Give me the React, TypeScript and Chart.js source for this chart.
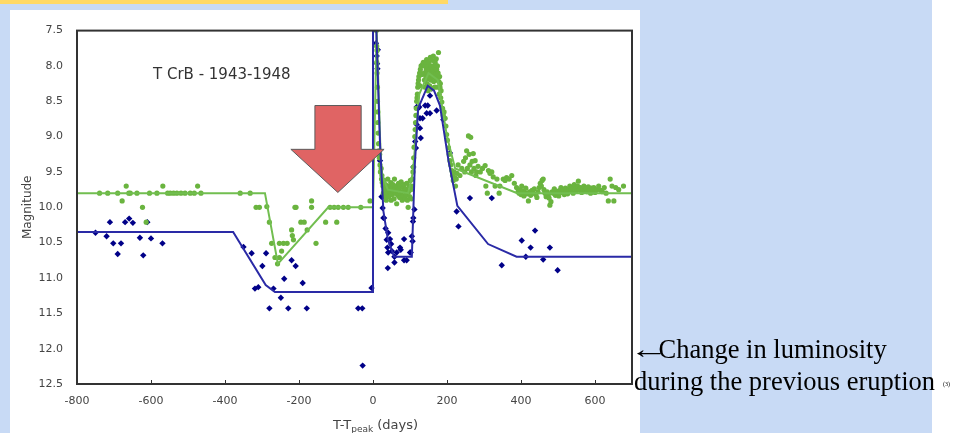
import React, { useEffect, useRef } from "react";
import { Chart, registerables } from "chart.js";

Chart.register(...registerables);

// ---------- data ----------
const chartTitle = "T CrB - 1943-1948";
const yAxisTitle = "Magnitude";
const xTickValues = [-800, -600, -400, -200, 0, 200, 400, 600];
const yTickValues = [7.5, 8.0, 8.5, 9.0, 9.5, 10.0, 10.5, 11.0, 11.5, 12.0, 12.5];

// model curves: [day, magnitude]
const blueModel: [number, number][] = [
  [-800, 10.35], [-378, 10.35], [-290, 11.1], [-265, 11.2], [0, 11.2], [0, 7.5], [9, 7.5],
  [19, 9.1], [28, 10.05], [40, 10.45], [57, 10.7], [105, 10.7], [113, 9.4], [122, 8.6],
  [148, 8.28], [165, 8.35], [181, 8.56], [204, 9.34], [228, 9.98], [311, 10.52], [388, 10.7], [700, 10.7],
];
const greenModel: [number, number][] = [
  [-800, 9.8], [-292, 9.8], [-257, 10.8], [-121, 10.0], [0, 10.0], [10, 7.5], [22, 9.5],
  [40, 9.75], [95, 9.8], [108, 9.5], [125, 8.4], [150, 8.1], [175, 8.2], [200, 9.0],
  [222, 9.45], [390, 9.8], [700, 9.8],
];

// observations: [day, magnitude]
const blueObs: [number, number][] = [
  [-750, 10.36], [-720, 10.41], [-711, 10.21], [-702, 10.51], [-690, 10.66], [-681, 10.51], [-670, 10.21],
  [-659, 10.16], [-649, 10.22], [-630, 10.43], [-621, 10.68], [-610, 10.21], [-600, 10.44], [-569, 10.51],
  [-350, 10.56], [-328, 10.65], [-289, 10.65], [-299, 10.83], [-319, 11.15], [-310, 11.13], [-269, 11.15],
  [-249, 11.28], [-280, 11.43], [-229, 11.43], [-179, 11.43], [-220, 10.75], [-209, 10.83], [-240, 11.01],
  [-190, 11.07], [-40, 11.43], [-29, 11.43], [-4, 11.14], [-28, 12.24],
  [8, 7.68], [10, 7.86], [11, 7.97], [12, 8.04], [13, 7.77], [19, 9.34], [23, 9.85], [26, 10.01],
  [28, 10.15], [30, 10.15], [34, 10.3], [37, 10.46], [39, 10.57], [40, 10.86], [41, 10.36], [41, 10.64],
  [46, 10.45], [49, 10.52], [51, 10.62], [58, 10.7], [58, 10.78], [64, 10.64], [73, 10.57], [75, 10.6],
  [84, 10.75], [84, 10.45], [91, 10.75], [100, 10.64], [102, 10.64], [105, 10.41], [107, 10.48], [108, 10.2],
  [109, 10.15], [112, 10.03], [109, 9.43], [114, 9.07], [116, 9.16], [118, 8.83], [122, 8.6], [118, 8.58],
  [125, 8.58], [127, 8.74], [134, 8.74], [127, 8.88], [129, 9.02], [141, 8.56], [148, 8.56], [145, 8.67],
  [154, 8.67], [159, 8.32], [154, 8.42], [172, 8.63], [190, 8.76], [208, 9.23], [226, 10.06], [231, 10.27],
  [262, 9.87], [321, 9.87], [348, 10.82], [402, 10.47], [413, 10.7], [426, 10.57], [438, 10.33], [460, 10.74],
  [478, 10.57], [499, 10.89],
];

const greenObs: [number, number][] = [
  [-739, 9.8], [-717, 9.8], [-690, 9.8], [-667, 9.7], [-678, 9.91], [-660, 9.8], [-656, 9.8], [-638, 9.8],
  [-623, 10.0], [-613, 10.21], [-604, 9.8], [-584, 9.8], [-568, 9.7], [-555, 9.8], [-548, 9.8], [-539, 9.8],
  [-530, 9.8], [-519, 9.8], [-508, 9.8], [-494, 9.8], [-483, 9.8], [-474, 9.7], [-465, 9.8],
  [-359, 9.8], [-332, 9.8], [-316, 10.0], [-307, 10.0],
  [-287, 9.99], [-280, 10.21], [-274, 10.51], [-265, 10.71], [-258, 10.8], [-253, 10.71], [-253, 10.51],
  [-247, 10.62], [-242, 10.51], [-232, 10.51], [-220, 10.32], [-218, 10.4], [-215, 10.46], [-208, 10.0],
  [-211, 10.0], [-195, 10.21], [-186, 10.21], [-178, 10.32], [-166, 9.91], [-166, 10.0], [-154, 10.51],
  [-128, 10.21], [-98, 10.21], [-116, 10.0], [-105, 10.0], [-94, 10.0], [-80, 10.0], [-67, 10.0], [-33, 10.0],
  [-8, 9.91],
  [9, 7.5], [10, 7.72], [11, 7.78], [10, 7.95], [11, 8.1], [12, 8.3], [12, 8.5], [13, 8.65], [13, 8.8],
  [14, 8.95], [15, 9.1], [16, 9.2], [17, 9.3], [18, 9.25], [19, 9.4], [20, 9.5], [22, 9.45], [23, 9.6], [24, 9.55],
  [25, 9.65], [27, 9.7], [28, 9.8], [30, 9.62], [31, 9.75], [33, 9.85], [34, 9.68], [36, 9.9], [37, 9.72],
  [39, 9.8], [40, 9.6], [42, 9.75], [43, 9.85], [45, 9.7], [46, 9.78], [48, 9.65], [49, 9.9], [51, 9.74],
  [52, 9.82], [54, 9.68], [55, 9.77], [57, 9.88], [58, 9.6], [60, 9.72], [61, 9.8], [63, 9.7], [64, 9.95],
  [66, 9.76], [67, 9.83], [69, 9.66], [70, 9.74], [72, 9.86], [73, 9.7], [75, 9.8], [76, 9.64], [78, 9.78],
  [79, 9.9], [81, 9.72], [82, 9.84], [84, 9.68], [85, 9.76], [87, 9.88], [88, 9.74], [90, 9.82], [91, 9.66],
  [93, 9.9], [95, 10.0], [96, 9.78], [98, 9.7], [99, 9.85], [101, 9.62], [102, 9.75], [104, 9.88], [105, 9.7],
  [107, 9.6], [108, 9.5],
  [109, 9.43], [110, 9.3], [111, 9.15], [113, 9.0], [114, 8.9], [115, 8.8], [116, 8.7], [117, 8.6], [118, 8.5],
  [119, 8.45], [120, 8.4], [121, 8.3], [122, 8.25], [123, 8.2], [124, 8.15], [126, 8.1], [127, 8.28], [128, 8.05],
  [130, 8.0], [132, 8.12], [134, 7.98], [136, 7.95],
  [138, 8.1], [139, 8.2], [140, 8.0], [141, 8.3], [142, 7.95], [143, 8.15], [144, 8.05], [145, 7.91], [146, 8.25],
  [147, 8.1], [148, 8.0], [149, 8.35], [150, 7.95], [151, 8.18], [152, 8.05], [153, 8.28], [154, 8.12], [155, 7.88],
  [156, 8.2], [157, 8.0], [158, 8.08], [159, 8.32], [160, 7.92], [161, 8.15], [162, 8.05], [163, 7.86], [164, 8.22],
  [165, 8.0], [166, 8.1], [167, 8.3], [168, 7.95], [169, 8.12], [170, 8.2], [171, 7.9], [172, 8.05], [173, 8.18],
  [174, 8.0], [175, 8.3], [176, 8.1], [177, 7.81], [178, 8.22], [179, 8.4], [180, 8.15], [181, 8.3], [182, 8.25],
  [183, 8.45], [184, 8.35], [186, 8.51], [188, 8.6], [190, 8.7], [192, 8.65], [195, 8.74], [197, 8.85], [199, 8.97],
  [201, 9.05], [204, 9.16], [206, 9.25], [208, 9.34], [210, 9.4], [213, 9.48], [215, 9.55], [217, 9.62], [219, 9.5],
  [221, 9.58], [223, 9.7], [225, 9.6], [227, 9.52],
  [230, 9.4], [235, 9.55], [240, 9.45], [245, 9.35], [248, 9.5], [250, 9.3], [253, 9.2], [255, 9.45], [258, 8.99],
  [260, 9.25], [262, 9.4], [264, 9.01], [266, 9.5], [268, 9.35], [271, 9.24], [273, 9.45], [276, 9.34], [278, 9.55],
  [280, 9.5], [284, 9.42], [290, 9.5], [296, 9.45], [303, 9.41], [305, 9.7], [309, 9.8], [312, 9.48], [316, 9.52],
  [321, 9.5], [325, 9.57], [330, 9.7], [335, 9.6], [341, 9.8], [343, 9.7], [352, 9.6], [357, 9.62], [361, 9.58],
  [368, 9.6], [375, 9.55], [382, 9.66],
  [388, 9.72], [392, 9.78], [395, 9.8], [398, 9.75], [400, 9.82], [402, 9.7], [405, 9.77], [408, 9.84], [410, 9.79],
  [413, 9.73], [416, 9.81], [420, 9.91], [423, 9.78], [426, 9.83], [430, 9.76], [433, 9.8], [436, 9.74], [440, 9.82],
  [443, 9.86], [446, 9.78], [449, 9.72], [452, 9.66], [455, 9.7], [457, 9.62], [460, 9.6], [462, 9.75], [465, 9.8],
  [468, 9.85], [471, 9.78], [474, 9.82], [476, 9.87], [478, 9.97], [481, 9.92], [484, 9.78], [487, 9.8], [490, 9.74],
  [493, 9.83], [496, 9.77], [499, 9.8], [502, 9.84], [505, 9.76], [508, 9.72], [511, 9.79], [514, 9.75], [517, 9.82],
  [520, 9.73], [523, 9.78], [526, 9.81], [529, 9.74], [532, 9.7], [535, 9.76], [538, 9.72], [541, 9.8], [544, 9.68],
  [547, 9.74], [550, 9.77], [553, 9.7], [555, 9.63], [558, 9.75], [561, 9.72], [564, 9.79], [567, 9.74], [570, 9.7],
  [573, 9.76], [576, 9.73], [579, 9.78], [582, 9.71], [585, 9.75], [588, 9.8], [591, 9.73], [594, 9.77], [597, 9.72],
  [600, 9.79], [605, 9.75], [610, 9.7], [615, 9.76], [620, 9.78], [625, 9.72], [630, 9.8], [636, 9.91], [641, 9.6],
  [646, 9.7], [651, 9.91], [656, 9.72], [664, 9.75], [677, 9.7],
];

// ---------- styles ----------
const BLUE_PT = "#000088";
const BLUE_LINE = "#2a2aa6";
const GREEN_PT = "#6ab43f";
const GREEN_LINE = "#72be50";
const TICK_COLOR = "#444";
const FONT = "'DejaVu Sans', Verdana, sans-serif";

const toXY = (arr: [number, number][]) => arr.map(([x, y]) => ({ x, y }));

const overlayPlugin = {
  id: "overlay",
  afterDatasetsDraw(chart: any) {
    const { ctx, chartArea: a, scales } = chart;
    const xs = scales.x;
    const ys = scales.y;
    const P = (d: number, m: number) => [xs.getPixelForValue(d), ys.getPixelForValue(m)];
    ctx.save();
    // red arrow annotation (in data coordinates)
    const arrow = [P(-157, 8.56), P(-32, 8.56), P(-32, 9.18), P(30, 9.18), P(-95, 9.79), P(-222, 9.18), P(-157, 9.18)];
    ctx.beginPath();
    arrow.forEach(([px, py], i) => (i ? ctx.lineTo(px, py) : ctx.moveTo(px, py)));
    ctx.closePath();
    ctx.fillStyle = "#e06464";
    ctx.fill();
    ctx.strokeStyle = "#5c5c5c";
    ctx.lineWidth = 1;
    ctx.stroke();

    // frame
    ctx.strokeStyle = "#333";
    ctx.lineWidth = 2;
    ctx.strokeRect(a.left, a.top, a.right - a.left, a.bottom - a.top);
    // small inward ticks on x axis
    ctx.lineWidth = 1;
    xTickValues.forEach((v) => {
      const px = Math.round(xs.getPixelForValue(v)) + 0.5;
      ctx.beginPath();
      ctx.moveTo(px, a.bottom);
      ctx.lineTo(px, a.bottom - 4);
      ctx.stroke();
    });

    // in-plot title
    ctx.fillStyle = "#333";
    ctx.font = `15px ${FONT}`;
    ctx.textBaseline = "middle";
    ctx.textAlign = "left";
    ctx.fillText(chartTitle, a.left + 76, a.top + 45);

    // x axis title with subscript
    const baseY = a.bottom + 45;
    let cx = a.left + 256;
    ctx.fillStyle = "#444";
    ctx.font = `13px ${FONT}`;
    ctx.textBaseline = "alphabetic";
    ctx.fillText("T-T", cx, baseY);
    cx += ctx.measureText("T-T").width;
    ctx.font = `9px ${FONT}`;
    ctx.fillText("peak", cx, baseY + 3);
    cx += ctx.measureText("peak").width;
    ctx.font = `13px ${FONT}`;
    ctx.fillText(" (days)", cx, baseY);
    ctx.restore();
  },
};

function TCrBChart() {
  const ref = useRef<HTMLCanvasElement | null>(null);
  useEffect(() => {
    if (!ref.current) return;
    const chart = new Chart(ref.current, {
      type: "scatter",
      data: {
        datasets: [
          {
            label: "blue model",
            data: toXY(blueModel),
            showLine: true,
            borderColor: BLUE_LINE,
            borderWidth: 2,
            pointRadius: 0,
            order: 0,
          },
          {
            label: "green model",
            data: toXY(greenModel),
            showLine: true,
            borderColor: GREEN_LINE,
            borderWidth: 2,
            pointRadius: 0,
            order: 1,
          },
          {
            label: "green obs",
            data: toXY(greenObs),
            pointStyle: "circle",
            pointRadius: 2.6,
            backgroundColor: GREEN_PT,
            borderWidth: 0,
            order: 2,
          },
          {
            label: "blue obs",
            data: toXY(blueObs),
            pointStyle: "rectRot",
            pointRadius: 3.2,
            backgroundColor: BLUE_PT,
            borderWidth: 0,
            order: 3,
          },
        ] as any,
      },
      options: {
        animation: false,
        responsive: false,
        layout: { padding: { top: 14, right: 8, left: 0, bottom: 0 } },
        plugins: { legend: { display: false }, tooltip: { enabled: false } },
        scales: {
          x: {
            type: "linear",
            min: -800,
            max: 700,
            grid: { display: false, drawTicks: false },
            border: { display: false },
            afterBuildTicks: (s: any) => {
              s.ticks = xTickValues.map((v) => ({ value: v }));
            },
            afterFit: (s: any) => {
              s.height = 49;
            },
            ticks: {
              padding: 11,
              color: TICK_COLOR,
              font: { family: FONT, size: 11 },
              maxRotation: 0,
              callback: (v: any) => String(v),
            },
          },
          y: {
            type: "linear",
            reverse: true,
            min: 7.5,
            max: 12.5,
            grid: { display: false, drawTicks: false },
            border: { display: false },
            afterBuildTicks: (s: any) => {
              s.ticks = yTickValues.map((v) => ({ value: v }));
            },
            afterFit: (s: any) => {
              s.width = 67;
            },
            title: {
              display: true,
              text: yAxisTitle,
              color: "#444",
              font: { family: FONT, size: 12 },
              padding: { top: 11, bottom: 0 },
            },
            ticks: {
              padding: 14,
              color: TICK_COLOR,
              font: { family: FONT, size: 11 },
              callback: (v: any) => Number(v).toFixed(1),
            },
          },
        },
      } as any,
      plugins: [overlayPlugin],
    });
    return () => chart.destroy();
  }, []);
  return <canvas ref={ref} width={630} height={423} style={{ display: "block" }} />;
}

export default function App() {
  return (
    <div
      style={{
        position: "fixed",
        left: 0,
        top: 0,
        width: 953,
        height: 433,
        background: "#c8daf5",
        overflow: "hidden",
      }}
    >
      <div style={{ position: "absolute", left: 0, top: 0, width: 448, height: 4, background: "#ffd966" }} />
      <div style={{ position: "absolute", left: 932, top: 0, width: 21, height: 433, background: "#ffffff" }} />
      <div style={{ position: "absolute", left: 10, top: 10, width: 630, height: 423, background: "#ffffff" }}>
        <TCrBChart />
      </div>
      <div
        style={{
          position: "absolute",
          left: 634,
          top: 333,
          whiteSpace: "nowrap",
          fontFamily: "'Liberation Serif', 'Times New Roman', serif",
          fontSize: 26.5,
          lineHeight: "32px",
          color: "#000",
        }}
      >
        <div>
          <span
            style={{
              display: "inline-block",
              transform: "scaleX(1.5)",
              transformOrigin: "left center",
              marginLeft: -5,
              marginRight: 3,
            }}
          >
            ←
          </span>
          Change in luminosity
        </div>
        <div>
          during the previous eruption
          <span style={{ fontSize: 6, marginLeft: 8, verticalAlign: "middle" }}>(3)</span>
        </div>
      </div>
    </div>
  );
}
